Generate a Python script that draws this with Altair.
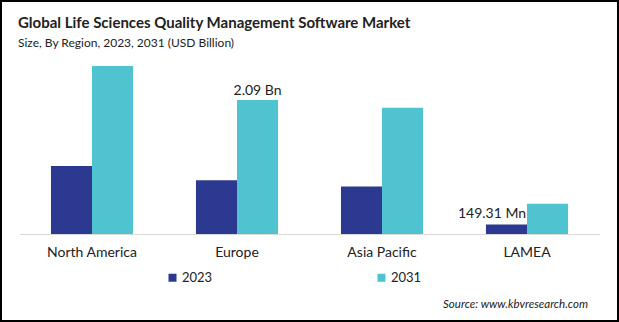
import altair as alt
import pandas as pd

regions = ["North America", "Europe", "Asia Pacific", "LAMEA"]
years = ["2023", "2031"]
values_2023 = [1.06, 0.84, 0.74, 0.149]
values_2031 = [2.62, 2.09, 1.97, 0.47]
colors = ["#2b3990", "#4fc3cf"]
title_text = "Global Life Sciences Quality Management Software Market"
subtitle_text = "Size, By Region, 2023, 2031 (USD Billion)"
source_text = "Source: www.kbvresearch.com"

rows = []
for r, a, b in zip(regions, values_2023, values_2031):
    rows.append({"region": r, "year": "2023", "value": a})
    rows.append({"region": r, "year": "2031", "value": b})
df = pd.DataFrame(rows)

label_eu = pd.DataFrame([{"region": "Europe", "year": "2031", "value": 2.09, "label": "2.09 Bn"}])
label_la = pd.DataFrame([{"region": "LAMEA", "year": "2023", "value": 0.149, "label": "149.31 Mn"}])

FONT = "Lato"

x_enc = alt.X("region:N", sort=regions,
              scale=alt.Scale(paddingInner=0.434, paddingOuter=0.217),
              axis=alt.Axis(title=None, labelAngle=0, ticks=False, labelFontSize=14,
                            labelColor="#222222", labelPadding=11, domainColor="#d9d9d9",
                            domainWidth=1, labelFont=FONT))
y_enc = alt.Y("value:Q", scale=alt.Scale(domain=[0, 2.714], nice=False), axis=None)

bars = alt.Chart(df).mark_bar().encode(
    x=x_enc,
    xOffset=alt.XOffset("year:N", sort=years),
    y=y_enc,
    color=alt.Color("year:N", sort=years,
                    scale=alt.Scale(domain=years, range=colors),
                    legend=alt.Legend(title=None, orient="none", legendX=146.5, legendY=211,
                                      direction="horizontal", columns=2, columnPadding=162,
                                      symbolType="square", symbolSize=64, symbolStrokeWidth=0,
                                      labelFontSize=13, labelOffset=3, labelColor="#222222",
                                      labelFont=FONT)),
)

t1 = alt.Chart(label_eu).mark_text(baseline="bottom", dy=-2, fontSize=14, color="#222222", font=FONT).encode(
    x=alt.X("region:N", sort=regions),
    xOffset=alt.XOffset("year:N", sort=years),
    y=alt.Y("value:Q"),
    text="label:N",
)
t2 = alt.Chart(label_la).mark_text(baseline="bottom", dy=-3, dx=-14.5, fontSize=14, color="#222222", font=FONT).encode(
    x=alt.X("region:N", sort=regions),
    xOffset=alt.XOffset("year:N", sort=years),
    y=alt.Y("value:Q"),
    text="label:N",
)

one = pd.DataFrame({"a": [0]})

title = alt.Chart(one).mark_text(
    align="left", baseline="alphabetic", fontSize=15, fontWeight="bold", color="#222222", font=FONT
).encode(x=alt.value(-1.5), y=alt.value(-32), text=alt.value(title_text))

subtitle = alt.Chart(one).mark_text(
    align="left", baseline="alphabetic", fontSize=12, color="#222222", font=FONT
).encode(x=alt.value(-1.5), y=alt.value(-13), text=alt.value(subtitle_text))

source = alt.Chart(one).mark_text(
    align="right", baseline="middle", fontSize=11.5, fontStyle="italic", color="#222222", font=FONT
).encode(x=alt.value(568.5), y=alt.value(245), text=alt.value(source_text))

border = alt.Chart(one).mark_rect(
    filled=False, stroke="black", strokeWidth=2
).encode(x=alt.value(-18.5), x2=alt.value(598.5), y=alt.value(-59), y2=alt.value(261))

chart = alt.layer(bars, t1, t2, title, subtitle, source, border).properties(
    width=580, height=174,
    background="white",
    autosize=alt.AutoSizeParams(type="none"),
    padding={"left": 19.5, "top": 60, "right": 19.5, "bottom": 88},
).configure_view(strokeWidth=0, stroke="transparent")

chart.save("out.html", embed_options={"renderer": "svg", "actions": False})
